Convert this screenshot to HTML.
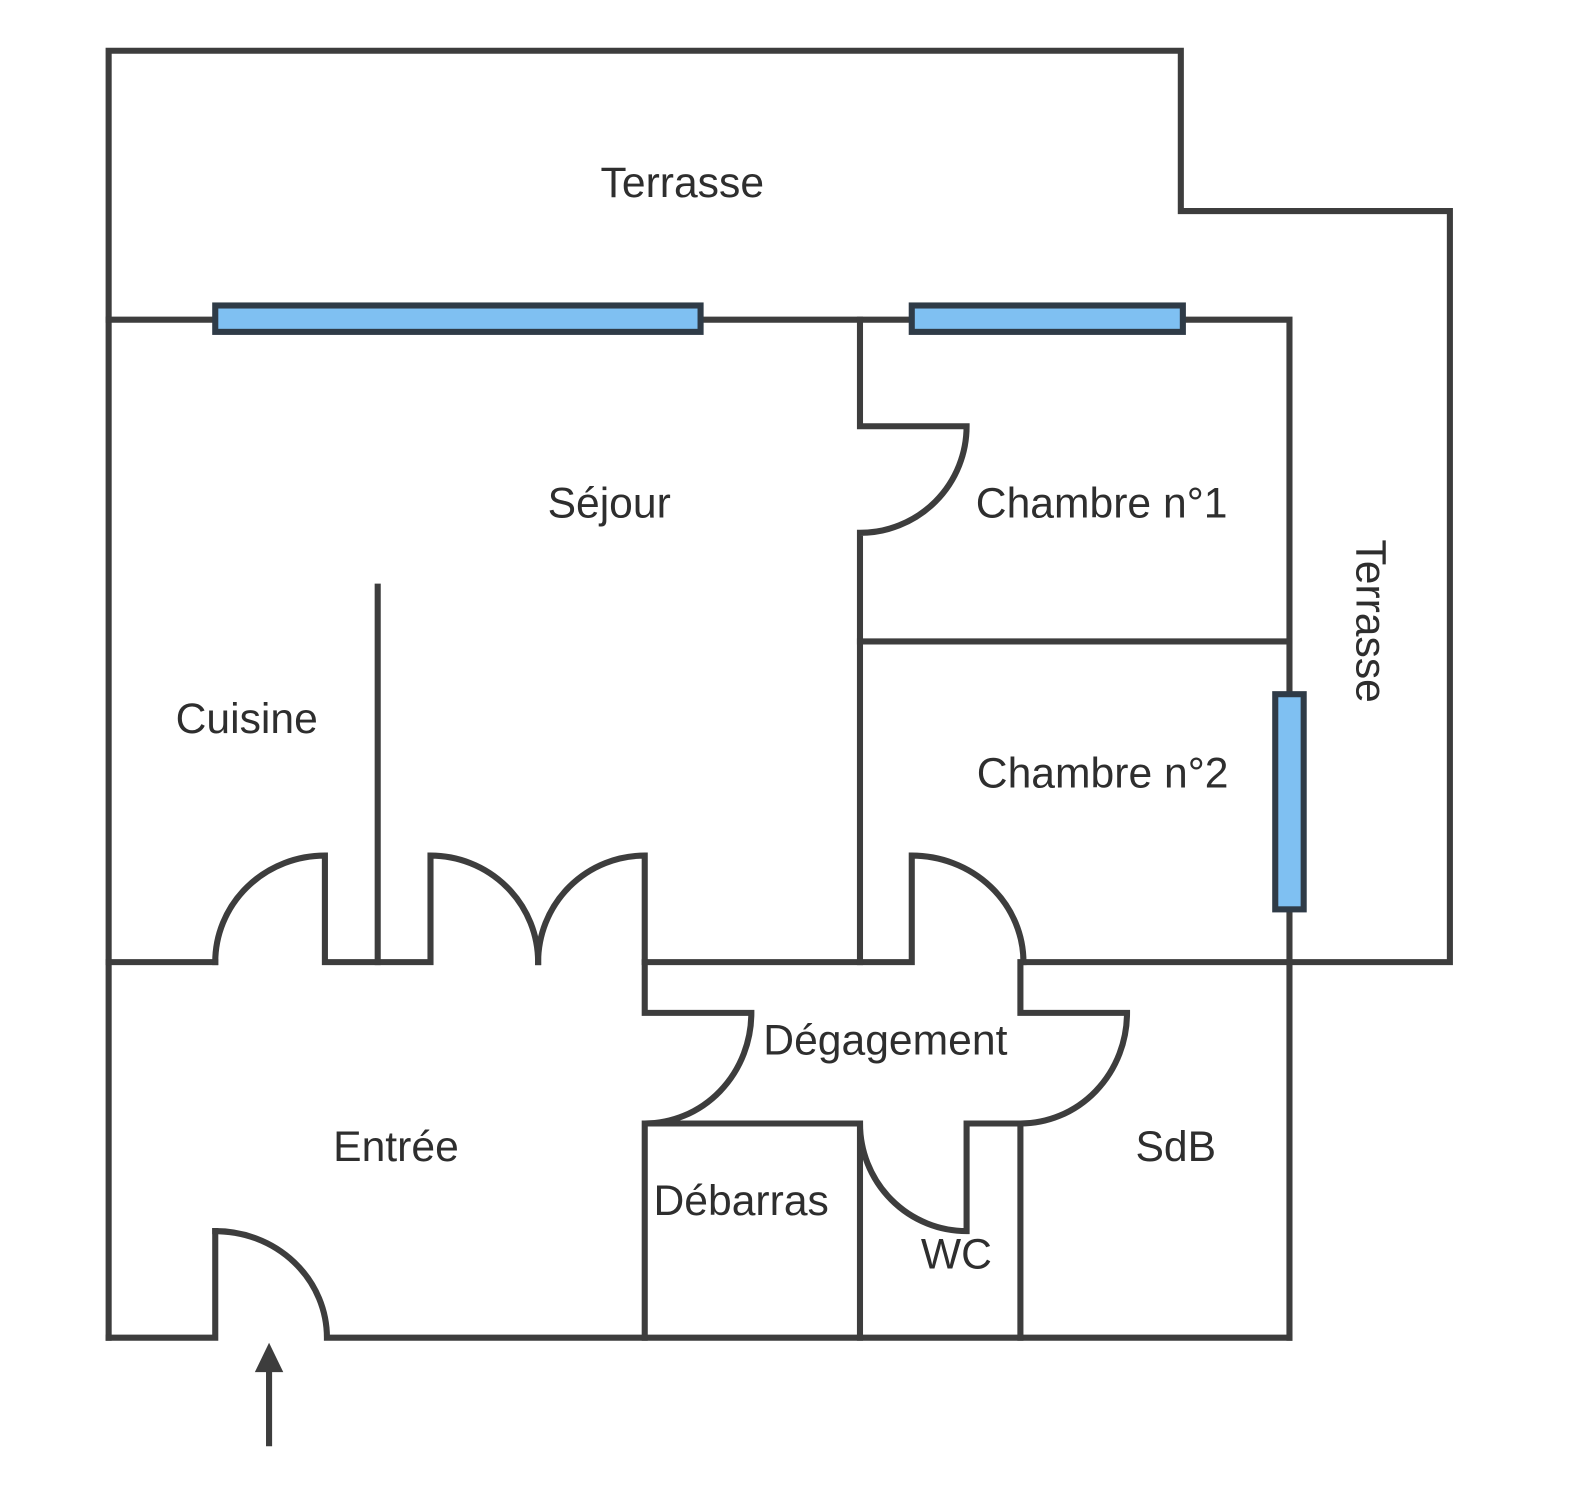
<!DOCTYPE html>
<html><head><meta charset="utf-8"><style>
html,body{margin:0;padding:0;background:#fff;}
svg{display:block;}
text{font-family:"Liberation Sans",sans-serif;font-size:42px;fill:#2e2e2e;}
</style></head><body>
<svg width="1590" height="1498" viewBox="0 0 1566 1476" preserveAspectRatio="none" xmlns="http://www.w3.org/2000/svg">
<g fill="none" stroke="#3d3d3d" stroke-width="6" stroke-linejoin="miter" stroke-linecap="square">
<path d="M107,1318 V50 H1163 V208 H1428 V948 H1008"/>
<path d="M107,315 H212"/>
<path d="M690,315 H898"/>
<path d="M1165,315 H1270 V684"/>
<path d="M1270,896 V1318"/>
<path d="M107,1318 H212 V1213"/>
<path d="M212,1213 A110,105 0 0 1 322,1318 H1270"/>
<path d="M107,948 H212"/>
<path d="M212,948 A108,105 0 0 1 320,843 V948 H424 V843 A106,105 0 0 1 530,948"/>
<path d="M530,948 A105,105 0 0 1 635,843 V948 H898 V843 A110,105 0 0 1 1008,948"/>
<path d="M372,948 V578"/>
<path d="M847,315 V420 H952 A105,105 0 0 1 847,525 V948"/>
<path d="M847,632 H1270"/>
<path d="M635,948 V998 H740 A105,109 0 0 1 635,1107 H847"/>
<path d="M635,1107 V1318"/>
<path d="M847,1107 V1318"/>
<path d="M847,1107 A105,106 0 0 0 952,1213 V1107 H1003"/>
<path d="M1005,1107 V1318"/>
<path d="M1005,948 V998 H1110 A105,109 0 0 1 1005,1107"/>
<path d="M265,1422 V1345"/>
</g>
<polygon points="265,1323 251,1352 279,1352" fill="#3d3d3d"/>
<g fill="#7fc0f2" stroke="#2f3b47" stroke-width="6">
<rect x="212" y="301" width="478" height="26"/>
<rect x="898" y="301" width="267" height="26"/>
<rect x="1256" y="684" width="28" height="212"/>
</g>
<text x="672" y="194" text-anchor="middle">Terrasse</text>
<text x="600" y="510" text-anchor="middle">Séjour</text>
<text x="1085" y="510" text-anchor="middle">Chambre n°1</text>
<text x="243" y="722" text-anchor="middle">Cuisine</text>
<text x="1086" y="776" text-anchor="middle">Chambre n°2</text>
<text x="872" y="1039" text-anchor="middle">Dégagement</text>
<text x="390" y="1144" text-anchor="middle">Entrée</text>
<text x="1158" y="1144" text-anchor="middle">SdB</text>
<text x="730" y="1197" text-anchor="middle">Débarras</text>
<text x="942" y="1250" text-anchor="middle">WC</text>
<text x="0" y="0" text-anchor="middle" transform="translate(1336,612) rotate(90)">Terrasse</text>
</svg>
</body></html>
